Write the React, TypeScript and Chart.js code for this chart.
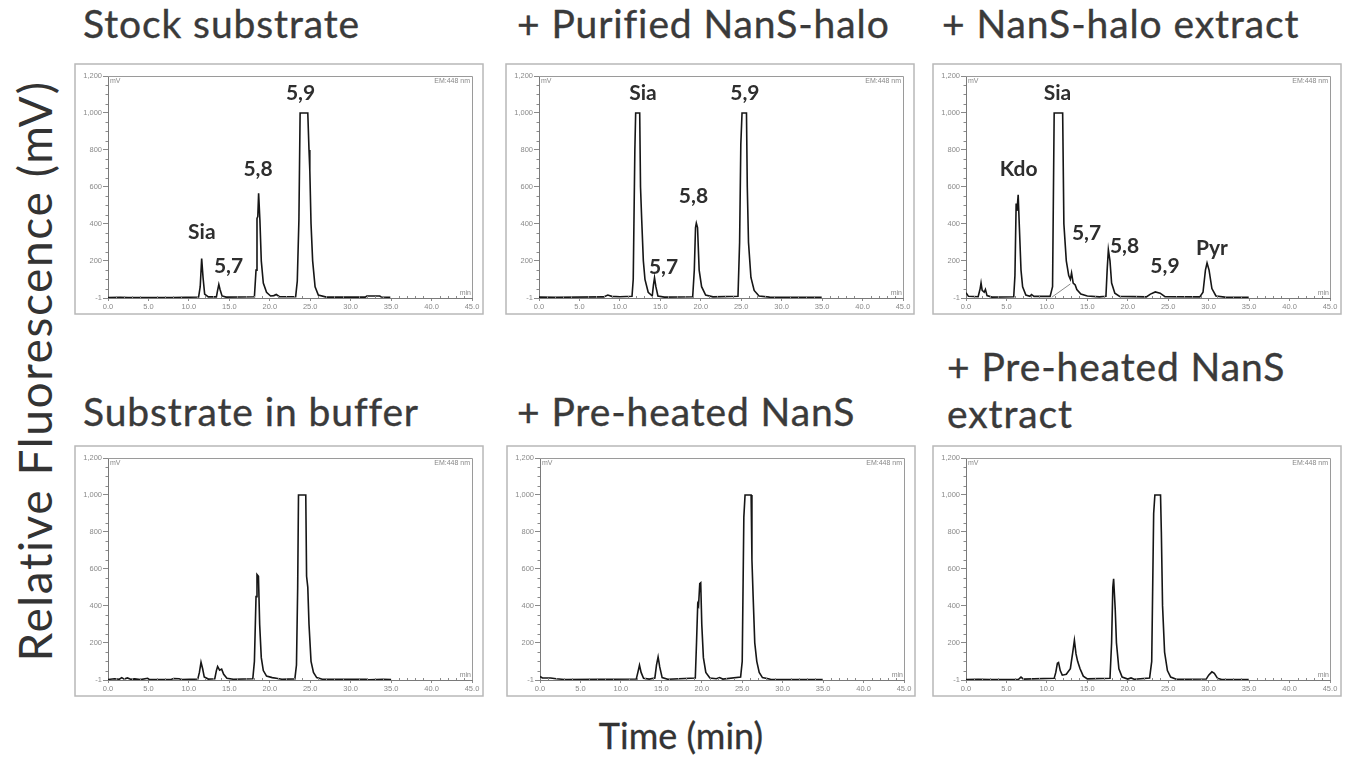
import React, { useEffect, useRef } from 'react';
import { Chart, registerables } from 'chart.js';

Chart.register(...registerables);

type Pt = [number, number];
type PeakLabel = { text: string; x: number; y: number };

// ---------- axis ticks ----------
const xTicks = [0, 5, 10, 15, 20, 25, 30, 35, 40, 45];
const xMinorTicks = [1, 2, 3, 4, 6, 7, 8, 9, 11, 12, 13, 14, 16, 17, 18, 19, 21, 22, 23, 24, 26, 27, 28, 29, 31, 32, 33, 34, 36, 37, 38, 39, 41, 42, 43, 44];
const yMajorTicks = [-1, 200, 400, 600, 800, 1000, 1200];
const yMinorTicks = [50, 100, 150, 250, 300, 350, 450, 500, 550, 650, 700, 750, 850, 900, 950, 1050, 1100, 1150];

// ---------- traces (time min, mV) ----------
const stockSubstrate: Pt[] = [
  [0, 2], [1.5, 3], [2.5, 1], [8, 2], [11.2, 4], [11.4, 60], [11.58, 212], [11.75, 110], [11.95, 20], [12.4, 5],
  [13.4, 5], [13.55, 40], [13.7, 72], [13.85, 45], [14.1, 10], [14.6, 4], [18.1, 6], [18.3, 150], [18.42, 430],
  [18.52, 440], [18.62, 565], [18.78, 420], [18.95, 200], [19.2, 80], [19.6, 30], [20.1, 10], [20.5, 12], [20.8, 18],
  [21.2, 6], [23.2, 6], [23.4, 90], [23.6, 420], [23.75, 1000], [24.7, 1000], [24.85, 800], [24.95, 690], [25.1, 400],
  [25.3, 200], [25.6, 60], [26, 15], [27, 4], [31.8, 4], [32, 10], [33.6, 10], [33.8, 4], [34.9, 3],
];

const purifiedNanS: Pt[] = [
  [0, 4], [2, 3], [8, 5], [8.5, 15], [9, 8], [10, 6], [11.5, 8], [11.65, 100], [11.85, 800], [11.95, 1000],
  [12.45, 1000], [12.55, 600], [12.7, 420], [12.9, 200], [13.1, 100], [13.5, 30], [14.0, 10], [14.15, 70],
  [14.28, 108], [14.45, 60], [14.7, 10], [15.5, 4], [19.0, 6], [19.2, 150], [19.35, 380], [19.45, 404], [19.6, 380],
  [19.8, 150], [20.1, 60], [20.6, 15], [21.5, 5], [24.6, 8], [24.8, 300], [24.95, 830], [25.1, 1000], [25.65, 1000],
  [25.75, 600], [25.9, 300], [26.2, 110], [26.6, 40], [27.2, 10], [28.5, 4], [34.95, 3],
];

const nansExtract: Pt[] = [
  [0, 28], [0.3, 8], [1.5, 6], [1.75, 50], [1.86, 80], [2.0, 40], [2.25, 30], [2.4, 45], [2.6, 12], [3.2, 4],
  [5.9, 6], [6.05, 120], [6.2, 510], [6.3, 470], [6.45, 557], [6.6, 380], [6.8, 150], [7.0, 60], [7.4, 15], [7.9, 8],
  [8.1, 18], [8.4, 8], [10.4, 8], [10.7, 60], [10.9, 1000], [11.95, 1000], [12.1, 400], [12.4, 200], [12.7, 120],
  [12.9, 100], [13.05, 135], [13.25, 80], [13.5, 70], [13.7, 45], [14.2, 20], [15, 10], [16.5, 5], [17.3, 8],
  [17.45, 150], [17.6, 260], [17.8, 200], [18.0, 80], [18.4, 25], [19, 8], [22.3, 5], [22.8, 20], [23.4, 32],
  [24.0, 25], [24.6, 6], [28.9, 5], [29.3, 30], [29.6, 150], [29.8, 188], [30.05, 150], [30.4, 50], [30.9, 10],
  [32, 4], [34.95, 3],
];
const nansExtractBaseline: Pt[] = [[10.6, 3], [12.9, 75]];

const substrateBuffer: Pt[] = [
  [0, 2], [0.8, 6], [1.4, 3], [1.7, 12], [2.0, 4], [2.4, 10], [2.8, 3], [3.3, 5], [4, 1], [4.9, 8], [5.1, 2],
  [7.8, 2], [8.1, 7], [8.8, 6], [9.1, 1], [11.1, 4], [11.3, 40], [11.5, 95], [11.7, 60], [11.9, 15], [12.4, 4],
  [13.2, 6], [13.4, 50], [13.55, 72], [13.8, 52], [14.05, 58], [14.3, 30], [14.7, 8], [15.5, 3], [17.9, 6],
  [18.1, 100], [18.3, 450], [18.42, 570], [18.6, 560], [18.75, 300], [18.95, 120], [19.2, 50], [19.6, 20],
  [20.3, 12], [20.8, 8], [21.5, 3], [23.1, 5], [23.3, 80], [23.45, 500], [23.55, 1000], [24.45, 1000], [24.55, 560],
  [24.7, 500], [24.85, 300], [25.1, 100], [25.4, 40], [25.8, 12], [26.5, 3], [31.9, 3], [32.2, 0], [34, 3], [35, 2],
];

const preheatedNanS: Pt[] = [
  [0, 18], [0.3, 10], [1.3, 10], [2, 6], [3, 2], [11.9, 4], [12.1, 40], [12.3, 79], [12.5, 40], [12.8, 8],
  [13.5, 4], [14.2, 10], [14.4, 80], [14.6, 124], [14.8, 70], [15.1, 12], [15.8, 3], [19.2, 10], [19.35, 200],
  [19.5, 410], [19.6, 400], [19.75, 520], [19.87, 525], [20.0, 300], [20.2, 120], [20.5, 40], [21.0, 10], [21.8, 6],
  [22.2, 12], [22.6, 4], [24.8, 15], [25.0, 100], [25.2, 880], [25.35, 1000], [26.1, 1000], [26.2, 650],
  [26.35, 450], [26.55, 200], [26.8, 100], [27.1, 40], [27.5, 12], [28.5, 3], [34.95, 2],
];

const preheatedExtract: Pt[] = [
  [0, 2], [1.5, 3], [3, 1], [6.5, 3], [6.8, 15], [7.1, 4], [10.9, 8], [11.1, 40], [11.3, 90], [11.44, 94],
  [11.65, 50], [11.9, 25], [12.4, 30], [12.9, 60], [13.2, 150], [13.4, 214], [13.6, 140], [13.8, 100], [14.1, 60],
  [14.5, 20], [15.0, 5], [17.8, 8], [18.0, 200], [18.15, 500], [18.25, 547], [18.45, 380], [18.6, 200], [18.9, 60],
  [19.3, 15], [20.0, 4], [20.4, 10], [20.8, 3], [22.7, 10], [22.96, 100], [23.2, 900], [23.35, 1000], [24.05, 1000],
  [24.15, 800], [24.3, 400], [24.55, 150], [24.9, 50], [25.3, 15], [26, 3], [29.7, 4], [30.0, 25], [30.4, 43],
  [30.7, 35], [31.1, 8], [31.6, 2], [34.95, 2],
];

// ---------- peak labels ----------
const stockLabels: PeakLabel[] = [
  { text: 'Sia', x: 11.6, y: 355 }, { text: '5,7', x: 14.9, y: 170 },
  { text: '5,8', x: 18.55, y: 693 }, { text: '5,9', x: 23.8, y: 1108 },
];
const purifiedLabels: PeakLabel[] = [
  { text: 'Sia', x: 12.85, y: 1108 }, { text: '5,7', x: 15.4, y: 166 },
  { text: '5,8', x: 19.1, y: 548 }, { text: '5,9', x: 25.45, y: 1108 },
];
const extractLabels: PeakLabel[] = [
  { text: 'Kdo', x: 6.5, y: 693 }, { text: 'Sia', x: 11.3, y: 1108 }, { text: '5,7', x: 14.9, y: 350 },
  { text: '5,8', x: 19.6, y: 278 }, { text: '5,9', x: 24.6, y: 170 }, { text: 'Pyr', x: 30.4, y: 269 },
];

const PANEL_W = 410;
const PANEL_H = 252;

const decor = {
  id: 'decor',
  afterDraw(chart: any, _args: any, opts: any) {
    const { ctx, chartArea: a, scales } = chart;
    const xs = scales.x;
    const ys = scales.y;
    ctx.save();
    // outer frame
    ctx.strokeStyle = '#b8b8b8';
    ctx.lineWidth = 1.5;
    ctx.strokeRect(1, 1, chart.width - 2, chart.height - 2);
    // plot box top / right
    ctx.strokeStyle = '#9a9a9a';
    ctx.lineWidth = 1;
    ctx.beginPath();
    ctx.moveTo(a.left, Math.round(a.top) + 0.5);
    ctx.lineTo(Math.round(a.right) + 0.5, Math.round(a.top) + 0.5);
    ctx.lineTo(Math.round(a.right) + 0.5, a.bottom);
    ctx.stroke();
    // minor ticks
    ctx.strokeStyle = '#8a8a8a';
    ctx.beginPath();
    for (const v of yMinorTicks) {
      const py = Math.round(ys.getPixelForValue(v)) + 0.5;
      ctx.moveTo(a.left - 2.5, py);
      ctx.lineTo(a.left, py);
    }
    for (const v of xMinorTicks) {
      const px = Math.round(xs.getPixelForValue(v)) + 0.5;
      ctx.moveTo(px, a.bottom);
      ctx.lineTo(px, a.bottom - 2);
    }
    ctx.stroke();
    // instrument texts
    ctx.fillStyle = '#888';
    ctx.font = '7px "Liberation Sans"';
    ctx.textBaseline = 'top';
    ctx.textAlign = 'left';
    ctx.fillText('mV', a.left + 2, a.top + 2);
    ctx.textAlign = 'right';
    ctx.fillText('EM:448 nm', a.right - 2, a.top + 2);
    ctx.textBaseline = 'bottom';
    ctx.fillText('min', a.right - 1, a.bottom - 1);
    // peak labels
    const labels: PeakLabel[] = (opts && opts.labels) || [];
    ctx.fillStyle = '#2e2e2e';
    ctx.font = 'bold 21px Lato';
    ctx.textAlign = 'center';
    ctx.textBaseline = 'middle';
    for (const l of labels) {
      ctx.fillText(l.text, xs.getPixelForValue(l.x), ys.getPixelForValue(l.y));
    }
    ctx.restore();
  },
};

function Panel(props: { left: number; top: number; trace: Pt[]; labels?: PeakLabel[]; guide?: Pt[] }) {
  const ref = useRef<HTMLCanvasElement>(null);
  useEffect(() => {
    if (!ref.current) return;
    const datasets: any[] = [
      {
        data: props.trace.map(([x, y]) => ({ x, y })),
        borderColor: '#161616',
        borderWidth: 1.6,
        pointRadius: 0,
        tension: 0,
        fill: false,
      },
    ];
    if (props.guide) {
      datasets.push({
        data: props.guide.map(([x, y]) => ({ x, y })),
        borderColor: '#8a8a8a',
        borderWidth: 1,
        pointRadius: 0,
        tension: 0,
        fill: false,
      });
    }
    const tickFont = { family: '"Liberation Sans", Arial, sans-serif', size: 7.5 };
    const chart = new Chart(ref.current, {
      type: 'line',
      data: { datasets },
      options: {
        animation: false,
        responsive: false,
        devicePixelRatio: 1,
        layout: { padding: { top: 13, right: 12, left: 0, bottom: 0 } },
        plugins: {
          legend: { display: false },
          tooltip: { enabled: false },
          decor: { labels: props.labels || [] },
        } as any,
        scales: {
          x: {
            type: 'linear',
            min: 0,
            max: 45,
            afterBuildTicks: (s: any) => {
              s.ticks = xTicks.map((v) => ({ value: v }));
            },
            afterFit: (s: any) => {
              s.height = 17;
            },
            ticks: {
              callback: (v: any) => Number(v).toFixed(1),
              font: tickFont,
              color: '#8a8a8a',
              padding: 1,
              maxRotation: 0,
              autoSkip: false,
            },
            grid: { drawOnChartArea: false, drawTicks: true, tickLength: 3, color: '#8a8a8a' },
            border: { color: '#7a7a7a', width: 1 },
          },
          y: {
            type: 'linear',
            min: -1,
            max: 1200,
            afterBuildTicks: (s: any) => {
              s.ticks = yMajorTicks.map((v) => ({ value: v }));
            },
            afterFit: (s: any) => {
              s.width = 34;
            },
            ticks: {
              callback: (v: any) => (Number(v) === -1 ? '-1' : Number(v).toLocaleString('en-US')),
              font: tickFont,
              color: '#8a8a8a',
              padding: 1,
              autoSkip: false,
            },
            grid: { drawOnChartArea: false, drawTicks: true, tickLength: 5, color: '#8a8a8a' },
            border: { color: '#7a7a7a', width: 1 },
          },
        },
      },
      plugins: [decor],
    });
    return () => chart.destroy();
  }, []);
  return (
    <canvas
      ref={ref}
      width={PANEL_W}
      height={PANEL_H}
      style={{ position: 'absolute', left: props.left, top: props.top, width: PANEL_W, height: PANEL_H }}
    />
  );
}

const TITLE_FS = 39;
function Title(props: { left: number; baseline: number; children: React.ReactNode }) {
  return (
    <div
      style={{
        position: 'absolute',
        left: props.left,
        top: props.baseline - 0.887 * TITLE_FS,
        fontFamily: 'Lato, sans-serif',
        fontSize: TITLE_FS,
        lineHeight: 1,
        letterSpacing: 0.9,
        color: '#3a3a3a',
        whiteSpace: 'nowrap',
        WebkitTextStroke: '0.35px #3a3a3a',
      }}
    >
      {props.children}
    </div>
  );
}

export default function App() {
  return (
    <div
      style={{
        position: 'absolute',
        left: 0,
        top: 0,
        width: 1349,
        height: 769,
        background: '#fff',
        overflow: 'hidden',
      }}
    >
      <Title left={83} baseline={39}>Stock substrate</Title>
      <Title left={517} baseline={39}>+ Purified NanS-halo</Title>
      <Title left={942} baseline={39}>+ NanS-halo extract</Title>
      <Title left={83} baseline={427}>Substrate in buffer</Title>
      <Title left={517} baseline={427}>+ Pre-heated NanS</Title>
      <Title left={947} baseline={382}>+ Pre-heated NanS</Title>
      <Title left={947} baseline={429}>extract</Title>

      <Panel left={74} top={63} trace={stockSubstrate} labels={stockLabels} />
      <Panel left={505} top={63} trace={purifiedNanS} labels={purifiedLabels} />
      <Panel left={932} top={63} trace={nansExtract} labels={extractLabels} guide={nansExtractBaseline} />
      <Panel left={74} top={445} trace={substrateBuffer} />
      <Panel left={506} top={445} trace={preheatedNanS} />
      <Panel left={932} top={445} trace={preheatedExtract} />

      <div
        style={{
          position: 'absolute',
          left: 35,
          top: 371,
          transform: 'translate(-50%, -50%) rotate(-90deg)',
          fontFamily: 'Lato, sans-serif',
          fontSize: 46,
          lineHeight: 1,
          letterSpacing: 1.6,
          color: '#333',
          whiteSpace: 'nowrap',
        }}
      >
        Relative Fluorescence (mV)
      </div>
      <div
        style={{
          position: 'absolute',
          left: 681,
          top: 735,
          transform: 'translate(-50%, -50%)',
          fontFamily: 'Lato, sans-serif',
          fontSize: 36,
          lineHeight: 1,
          color: '#333',
          whiteSpace: 'nowrap',
          WebkitTextStroke: '0.3px #333',
        }}
      >
        Time (min)
      </div>
    </div>
  );
}
